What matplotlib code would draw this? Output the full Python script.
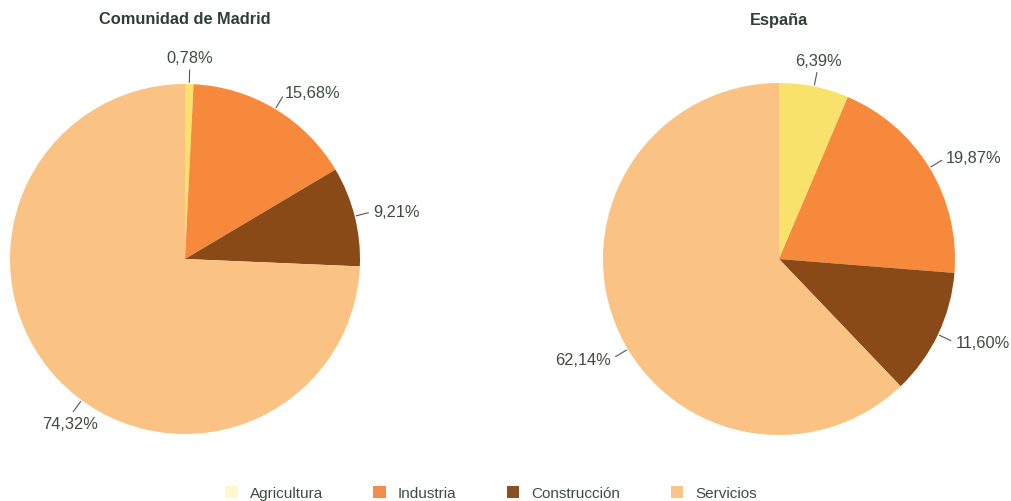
import numpy as np
import matplotlib
matplotlib.use('Agg')
import matplotlib.pyplot as plt
from matplotlib.patches import Patch

plt.rcParams['font.family'] = ['Liberation Sans', 'DejaVu Sans']

sectors = ['Agricultura', 'Industria', 'Construcción', 'Servicios']
madrid = [0.78, 15.68, 9.21, 74.32]
espana = [6.39, 19.87, 11.60, 62.14]
titles = ['Comunidad de Madrid', 'España']

colors = ['#f8e26c', '#f7893c', '#8a4a17', '#fac383']
legend_colors = ['#fdf9cc', '#f58b4c', '#8b5023', '#fbc58a']
text_color = '#3d4b42'

W, H = 1011, 502
fig = plt.figure(figsize=(W / 100, H / 100), dpi=100)

# pie centre (px from left, px from top), radius px, label angle shift for the big slice
pies = [
    (madrid, titles[0], 185, 260, 175, [0, 0, 0, 10]),
    (espana, titles[1], 779, 260, 176, [0, 0, 0, 9]),
]


def fmt(v):
    return '{:.2f}%'.format(v).replace('.', ',')


for values, title, cx, cy, r, shifts in pies:
    ax = fig.add_axes([(cx - r) / W, (H - cy - r) / H, 2 * r / W, 2 * r / H])
    wedges, _ = ax.pie(values, colors=colors, startangle=90, counterclock=False,
                       wedgeprops=dict(linewidth=0))
    ax.set_xlim(-1, 1)
    ax.set_ylim(-1, 1)
    ax.set_aspect('equal')
    ax.axis('off')

    for w, v, s in zip(wedges, values, shifts):
        ang = np.deg2rad((w.theta1 + w.theta2) / 2 + s)
        c, sn = np.cos(ang), np.sin(ang)
        ax.plot([c * 1.01, c * 1.08], [sn * 1.01, sn * 1.08], color='#555555',
                lw=0.8, clip_on=False)
        if sn > 0.9:
            ha, va = 'center', 'bottom'
        elif sn < -0.75:
            ha, va = 'center', 'top'
        else:
            ha = 'left' if c > 0 else 'right'
            va = 'center'
        ax.text(c * 1.11, sn * 1.11, fmt(v), ha=ha, va=va, fontsize=11.8,
                color=text_color)

    fig.text(cx / W, 1 - 20 / H, title, ha='center', va='center', fontsize=11.8,
             fontweight='bold', color='#2f3f33')

handles = [Patch(facecolor=c, edgecolor='none') for c in legend_colors]
fig.legend(handles, sectors, loc='center', bbox_to_anchor=(491 / W, 1 - 494 / H),
           ncol=4, frameon=False, fontsize=11, handlelength=0.8, handleheight=0.8,
           handletextpad=0.8, columnspacing=3.3, labelcolor=text_color)

fig.savefig('out.png', dpi=100)
